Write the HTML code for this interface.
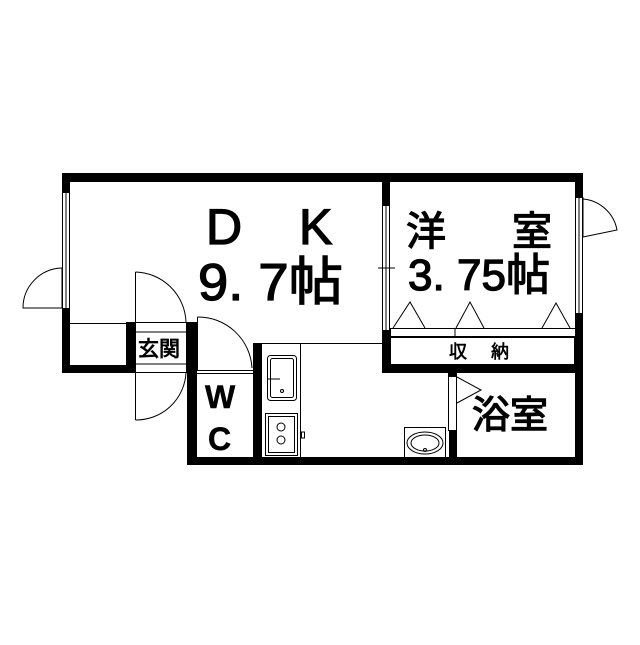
<!DOCTYPE html>
<html><head><meta charset="utf-8"><style>body{margin:0;background:#fff}</style></head><body>
<svg width="640" height="640" viewBox="0 0 640 640" xmlns="http://www.w3.org/2000/svg" font-family="'Liberation Sans','Noto Sans CJK JP',sans-serif">
<rect width="640" height="640" fill="#fff"/>
<g fill="#000">
<rect x="62" y="173" width="521" height="9"/>
<rect x="62" y="173" width="8" height="19"/>
<rect x="62" y="308" width="8" height="65"/>
<rect x="62" y="365" width="73" height="8"/>
<rect x="126" y="322" width="9" height="51"/>
<rect x="187" y="322" width="10" height="143"/>
<rect x="253" y="343" width="9" height="122"/>
<rect x="190" y="457" width="393" height="8"/>
<rect x="575" y="173" width="8" height="24"/>
<rect x="575" y="313" width="8" height="152"/>
<rect x="382" y="173" width="8" height="32"/>
<rect x="382" y="330" width="8" height="43"/>
<rect x="382" y="364" width="201" height="9"/>
<rect x="448" y="373" width="9" height="4"/>
<rect x="449" y="430" width="8" height="35"/>
</g>
<g fill="none" stroke="#000" stroke-width="1">
<rect x="62.5" y="192.5" width="7" height="116"/><line x1="66" y1="192" x2="66" y2="308"/>
<line x1="62" y1="268" x2="62" y2="308"/><path d="M62 268 A40 40 0 0 0 23 308 L62 308"/>
<line x1="70" y1="323.5" x2="127" y2="323.5"/>
<rect x="135.5" y="322.5" width="51" height="50"/>
<line x1="135" y1="332" x2="187" y2="332"/><line x1="135" y1="364" x2="187" y2="364"/>
<line x1="135.5" y1="272" x2="135.5" y2="322"/><path d="M135.5 272 A52 52 0 0 1 186 322"/>
<line x1="135.5" y1="373" x2="135.5" y2="420"/><path d="M135.5 420 A50 50 0 0 0 186 373"/>
<line x1="197.5" y1="317" x2="197.5" y2="370"/><path d="M197.5 317 A54 54 0 0 1 252 368"/>
<line x1="197" y1="370.5" x2="253" y2="370.5"/><line x1="197" y1="373.5" x2="253" y2="373.5"/>
<line x1="262" y1="343.5" x2="382" y2="343.5"/>
<line x1="300.5" y1="343" x2="300.5" y2="457"/>
<rect x="267.5" y="355.5" width="29" height="45" rx="3"/><rect x="270.5" y="358.5" width="23" height="39" rx="2"/>
<line x1="267" y1="379" x2="280" y2="379"/><circle cx="282" cy="391" r="1.5"/>
<rect x="265.5" y="413.5" width="32" height="42"/><rect x="268.5" y="416.5" width="26" height="36"/>
<circle cx="281" cy="427" r="4"/><circle cx="281" cy="440" r="4"/>
<rect x="301.5" y="432" width="3" height="6"/>
<rect x="382.5" y="205.5" width="7" height="125"/><line x1="386" y1="205" x2="386" y2="330"/>
<line x1="378" y1="268" x2="395" y2="268"/>
<rect x="575.5" y="197.5" width="7" height="116"/><line x1="579" y1="197" x2="579" y2="313"/>
<line x1="583" y1="197" x2="583" y2="237"/><path d="M583 199 A38 38 0 0 1 617 230 L583 237"/>
<rect x="390.5" y="328.5" width="185" height="8"/>
<line x1="455" y1="328" x2="455" y2="337"/>
<path d="M393 328 L410 302 L425 328 M456 328 L470 302 L484 328 M542 328 L556 303 L570 328"/>
<rect x="390.5" y="337.5" width="184" height="27"/>
<rect x="448.5" y="376.5" width="8" height="54"/>
<path d="M457 377 L481 390 L457 403"/>
<rect x="404.5" y="427.5" width="41" height="30"/>
<ellipse cx="425" cy="443" rx="18" ry="11"/><ellipse cx="425" cy="443" rx="14" ry="8"/>
<circle cx="425" cy="450" r="1.5"/>
</g>
<g fill="#000" stroke="#000" stroke-width="1.3">
<text x="206" y="244" font-size="50">D</text>
<text x="299" y="244" font-size="50">K</text>
<text x="198" y="300" font-size="52" textLength="145" lengthAdjust="spacingAndGlyphs">9. 7帖</text>
<text x="406" y="245" font-size="40">洋</text>
<text x="512" y="245" font-size="40">室</text>
<text x="408" y="290" font-size="44" textLength="142" lengthAdjust="spacingAndGlyphs">3. 75帖</text>
<text x="138" y="356" font-size="21" stroke-width="0.8">玄関</text>
<text x="205" y="408" font-size="32" font-weight="bold" stroke-width="0.5">W</text>
<text x="208" y="450" font-size="32" font-weight="bold" stroke-width="0.5">C</text>
<text x="449" y="358" font-size="18" stroke-width="0.6">収</text>
<text x="491" y="358" font-size="18" stroke-width="0.6">納</text>
<text x="472" y="428" font-size="38">浴室</text>
</g>
</svg>
</body></html>
